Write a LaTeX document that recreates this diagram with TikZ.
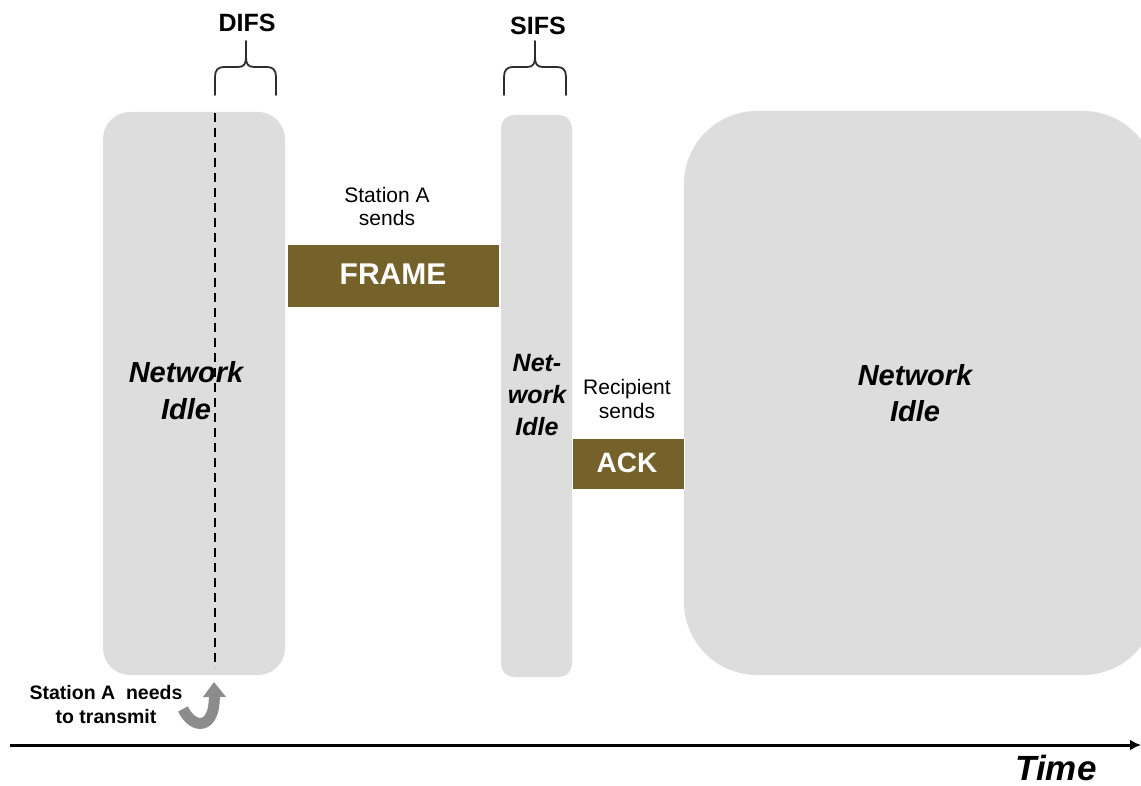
\documentclass[tikz,border=0pt]{standalone}
\usepackage{fontspec}
\setmainfont{Liberation Sans}
\usetikzlibrary{arrows.meta}
\definecolor{idlegray}{RGB}{221,221,221}
\definecolor{framebrown}{RGB}{117,97,42}
\definecolor{arrowgray}{RGB}{140,140,140}
\definecolor{bracegray}{RGB}{45,45,45}
\tikzset{
  idlebox/.style={fill=idlegray},
  busybox/.style={fill=framebrown, draw=white, line width=0.6pt},
  bracepath/.style={draw=bracegray, line width=1.8pt, line cap=round, line join=round},
  hdr/.style={font=\fontsize{25}{30}\selectfont\bfseries, inner sep=0pt},
  idletxt/.style={font=\fontsize{29}{37}\selectfont\bfseries\itshape, align=center, inner sep=0pt},
  smalltxt/.style={font=\fontsize{21}{23}\selectfont, align=center, inner sep=0pt},
  busytxt/.style={text=white, font=\fontsize{30}{36}\selectfont\bfseries, inner sep=0pt},
}
\begin{document}
\begin{tikzpicture}[x=1pt,y=-1pt]
\clip (0,0) rectangle (1141,786);
\fill[white] (0,0) rectangle (1141,786);

% idle periods
\fill[idlebox, rounded corners=27pt] (103,112) rectangle (285,675);
\fill[idlebox, rounded corners=13pt] (501,115) rectangle (572,677);
\fill[idlebox, rounded corners=73pt] (684,111) rectangle (1156,675);

% dashed line (station A needs to transmit)
\coordinate (dtop) at (215,113);
\coordinate (dbot) at (215,668);
\draw[black, line width=2pt, dash pattern=on 9pt off 6pt] (dtop) -- (dbot);

% busy periods
\node[busybox, minimum width=212pt, minimum height=63pt, anchor=north west, inner sep=0pt] (frame) at (287,244) {};
\node[busytxt] (frametxt) at (393,274) {FRAME};
\node[busybox, minimum width=112pt, minimum height=51pt, anchor=north west, inner sep=0pt] (ack) at (572,438) {};
\node[busytxt, font=\fontsize{28}{34}\selectfont\bfseries] (acktxt) at (627,463) {ACK};

% labels
\node[idletxt] (idle1) at (186,391) {Network\\Idle};
\node[idletxt, font=\fontsize{25}{32}\selectfont\bfseries\itshape] (idle2) at (537,395) {Net-\\work\\Idle};
\node[idletxt, font=\fontsize{29}{36}\selectfont\bfseries\itshape] (idle3) at (915,393) {Network\\Idle};
\node[smalltxt] (sendA) at (387,206) {Station A\\sends};
\node[smalltxt, font=\fontsize{21}{24}\selectfont] (sendR) at (627,399) {Recipient\\sends};
\node[smalltxt, font=\fontsize{19.5}{24}\selectfont\bfseries] (needs) at (106,705) {Station A\ \ needs\\to transmit};

% braces
\node[hdr] (difs) at (247,23) {DIFS};
\node[hdr] (sifs) at (538,26) {SIFS};
\draw[bracepath] (215,95) -- (215,77) .. controls (215,70) and (218,67) .. (224,67)
  -- (238,67) .. controls (244,67) and (246,64) .. (246,57) -- (246,41);
\draw[bracepath] (276,95) -- (276,77) .. controls (276,70) and (273,67) .. (267,67)
  -- (254,67) .. controls (248,67) and (246,64) .. (246,57);
\draw[bracepath] (504,95) -- (504,77) .. controls (504,70) and (507,67) .. (513,67)
  -- (527,67) .. controls (533,67) and (535,64) .. (535,57) -- (535,41);
\draw[bracepath] (566,95) -- (566,77) .. controls (566,70) and (563,67) .. (557,67)
  -- (543,67) .. controls (537,67) and (535,64) .. (535,57);

% curved gray arrow
\coordinate (ctail) at (183,709);
\coordinate (chead) at (214,682);
\draw[arrowgray, line width=11pt, -{Triangle[width=22pt,length=15pt]}]
  (ctail) .. controls (193,730) and (215,730) .. (chead);

% time axis
\coordinate (t0) at (10,745);
\coordinate (t1) at (1141,745);
\draw[black, line width=3pt, -{Latex[length=11pt,width=11pt]}] (t0) -- (t1);
\node[font=\fontsize{35}{40}\selectfont\bfseries\itshape, inner sep=0pt] (time) at (1056,768) {Time};
\end{tikzpicture}
\end{document}
